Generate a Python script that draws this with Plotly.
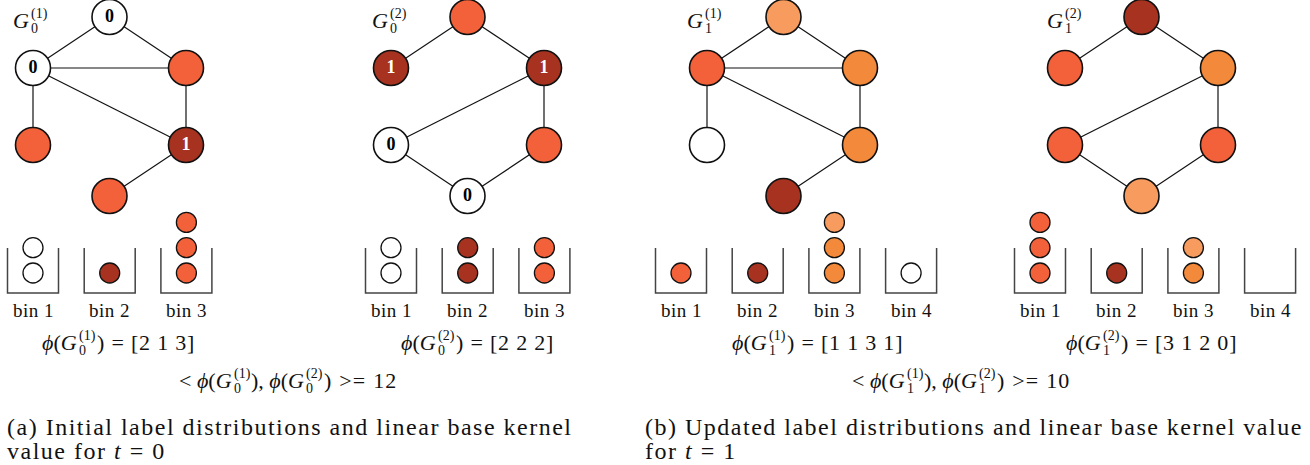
import plotly.graph_objects as go

W, H = 1310, 465
SERIF = "Liberation Serif"

# ---------------- data ----------------
# label colours
COLORS = {"w": "#FFFFFF", "r": "#F26139", "d": "#A6321F", "m": "#F3893A", "l": "#F79B5E"}

# node layout shared by the four graphs (top, upper-left, upper-right, lower-left, lower-right, bottom)
node_dx = [76.5, 0, 153, 0, 153, 76.5]
node_dy = [0, 51, 51, 128, 128, 179]

edges_a = [(0, 1), (0, 2), (1, 2), (1, 3), (1, 4), (2, 4), (4, 5)]
edges_b = [(0, 1), (0, 2), (2, 3), (2, 4), (3, 5), (4, 5)]

graph_origin_x = [33, 391, 707, 1065]
graph_origin_y = 17
graph_edges = [edges_a, edges_b, edges_a, edges_b]
graph_iter = ["0", "0", "1", "1"]
graph_name = ["(1)", "(2)", "(1)", "(2)"]

node_colors = [
    ["w", "w", "r", "r", "d", "r"],
    ["r", "d", "d", "w", "r", "w"],
    ["l", "r", "m", "w", "m", "d"],
    ["d", "r", "m", "r", "r", "l"],
]
node_labels = [
    ["0", "0", "", "", "1", ""],
    ["", "1", "1", "0", "", "0"],
    ["", "", "", "", "", ""],
    ["", "", "", "", "", ""],
]

# bin contents (bottom to top)
bin_contents = [
    [["w", "w"], ["d"], ["r", "r", "r"]],
    [["w", "w"], ["d", "d"], ["r", "r"]],
    [["r"], ["d"], ["m", "m", "l"], ["w"]],
    [["r", "r", "r"], ["d"], ["m", "l"], []],
]
bin_first_x = [33, 391, 681, 1040]
bin_step = 76.7
bin_names = ["bin 1", "bin 2", "bin 3", "bin 4"]

# text positions
graph_label_pivot = [30, 389, 704, 1064]
phi_pivot = [78, 437, 768, 1102]
kernel_pivots = [(233, 305), (906, 978)]

captions = [
    ("(a) Initial label distributions and linear base kernel", "value for <i>t</i> = 0", 5),
    ("(b) Updated label distributions and linear base kernel value", "for <i>t</i> = 1", 643),
]

# ---------------- figure ----------------
fig = go.Figure()
ann = []

def add_ann(x, y, text, size, xanchor="left", color="#111", spacing=None):
    if spacing:
        text = f'<span style="letter-spacing:{spacing}px">{text}</span>'
    ann.append(dict(x=x, y=y, xref="x", yref="y", text=text, showarrow=False,
                    xanchor=xanchor, yanchor="middle",
                    font=dict(family=SERIF, size=size, color=color)))

def scripted(pivot, y, pre, sub, sup, post, size=22, ssize=14, sw=17, post_spacing=0.8):
    add_ann(pivot + 1, y, pre, size, xanchor="right")
    add_ann(pivot - 1, y - 6, sup, ssize)
    add_ann(pivot - 1, y + 8, sub, ssize)
    if post:
        add_ann(pivot + sw, y, post, size, spacing=post_spacing)

for g in range(4):
    ox = graph_origin_x[g]
    xs = [ox + dx for dx in node_dx]
    ys = [graph_origin_y + dy for dy in node_dy]
    ex, ey = [], []
    for a, b in graph_edges[g]:
        ex += [xs[a], xs[b], None]
        ey += [ys[a], ys[b], None]
    fig.add_trace(go.Scatter(x=ex, y=ey, mode="lines", line=dict(color="#111", width=1.2),
                             hoverinfo="skip", cliponaxis=False))
    cols = [COLORS[c] for c in node_colors[g]]
    txtcol = ["#FFFFFF" if c == "d" else "#000000" for c in node_colors[g]]
    fig.add_trace(go.Scatter(
        x=xs, y=ys, mode="markers+text",
        marker=dict(size=35, color=cols, line=dict(color="#111", width=1.6)),
        text=[f"<b>{t}</b>" if t else "" for t in node_labels[g]],
        textposition="middle center",
        textfont=dict(family=SERIF, size=18, color=txtcol),
        hoverinfo="skip", cliponaxis=False))

    # bins
    bx, by = [], []
    ballx, bally, ballc = [], [], []
    counts = []
    for k, content in enumerate(bin_contents[g]):
        cx = bin_first_x[g] + k * bin_step
        bx += [cx - 25.5, cx - 25.5, cx + 25.5, cx + 25.5, None]
        by += [248, 293, 293, 248, None]
        for j, c in enumerate(content):
            ballx.append(cx)
            bally.append(273 - 25.3 * j)
            ballc.append(COLORS[c])
        counts.append(len(content))
        add_ann(cx, 310, bin_names[k], 19, xanchor="center", spacing=0.5)
    fig.add_trace(go.Scatter(x=bx, y=by, mode="lines", line=dict(color="#444", width=1.5),
                             hoverinfo="skip"))
    fig.add_trace(go.Scatter(x=ballx, y=bally, mode="markers",
                             marker=dict(size=20, color=ballc, line=dict(color="#111", width=1.3)),
                             hoverinfo="skip"))
    if g == 0:
        c00 = counts
    elif g == 1:
        c01 = counts
    elif g == 2:
        c10 = counts
    else:
        c11 = counts

    # graph label
    scripted(graph_label_pivot[g], 20, "<i>G</i>", graph_iter[g], graph_name[g], "", size=22, ssize=14)
    # feature vector
    vec = "[" + " ".join(str(c) for c in counts) + "]"
    scripted(phi_pivot[g], 342, "<i>ϕ</i>(<i>G</i>", graph_iter[g], graph_name[g], ") = " + vec)

# kernel values
k0 = sum(a * b for a, b in zip(c00, c01))
k1 = sum(a * b for a, b in zip(c10, c11))
for (p1, p2), it, kv in zip(kernel_pivots, ["0", "1"], [k0, k1]):
    scripted(p1, 380, "&lt; <i>ϕ</i>(<i>G</i>", it, "(1)", "")
    scripted(p2, 380, "), <i>ϕ</i>(<i>G</i>", it, "(2)", ") &gt;= " + str(kv), post_spacing=1.2)

for l1, l2, x0 in captions:
    add_ann(x0, 427, l1, 24, spacing=1.5)
    add_ann(x0, 451, l2, 24, spacing=1.5)

fig.update_layout(
    width=W, height=H, margin=dict(l=0, r=0, t=0, b=0),
    paper_bgcolor="white", plot_bgcolor="white", showlegend=False,
    xaxis=dict(range=[0, W], visible=False, fixedrange=True),
    yaxis=dict(range=[H, 0], visible=False, fixedrange=True),
    annotations=ann,
)
fig.write_html("out.html")
